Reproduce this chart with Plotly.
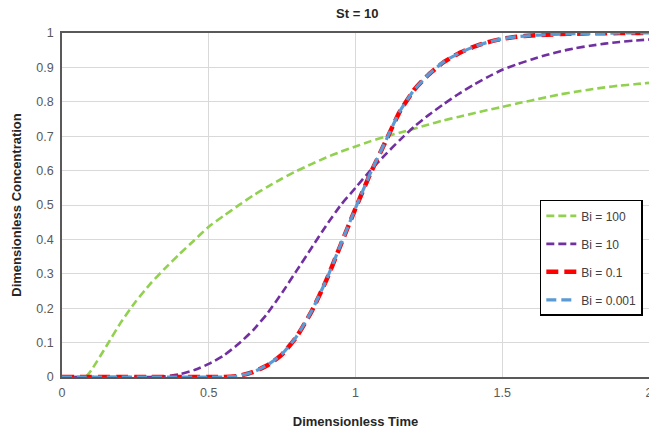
import plotly.graph_objects as go

time = [0, 0.05, 0.08, 0.1, 0.15, 0.2, 0.25, 0.3, 0.35, 0.4, 0.45, 0.5, 0.55, 0.6, 0.65, 0.7,
        0.75, 0.8, 0.85, 0.9, 0.95, 1.0, 1.05, 1.1, 1.15, 1.2, 1.25, 1.3, 1.35, 1.4, 1.45,
        1.5, 1.55, 1.6, 1.65, 1.7, 1.75, 1.8, 1.85, 1.9, 1.95, 2.0]

bi_100 = [0, 0, 0, 0.02, 0.088, 0.158, 0.218, 0.27, 0.315, 0.357, 0.397, 0.437, 0.468, 0.498,
          0.527, 0.553, 0.577, 0.599, 0.619, 0.638, 0.655, 0.67, 0.685, 0.698, 0.71, 0.722,
          0.734, 0.746, 0.756, 0.766, 0.776, 0.785, 0.795, 0.804, 0.813, 0.822, 0.829, 0.836,
          0.842, 0.847, 0.851, 0.855]

bi_10 = [0, 0, 0, 0, 0, 0, 0, 0, 0.002, 0.008, 0.02, 0.038, 0.062, 0.095, 0.135, 0.185,
         0.245, 0.31, 0.375, 0.44, 0.5, 0.55, 0.6, 0.645, 0.688, 0.728, 0.762, 0.793, 0.822,
         0.848, 0.872, 0.893, 0.909, 0.923, 0.936, 0.947, 0.956, 0.963, 0.969, 0.974, 0.978,
         0.981]

bi_01 = [0, 0, 0, 0, 0, 0, 0, 0, 0, 0, 0, 0, 0, 0.003, 0.014, 0.034, 0.066, 0.118, 0.19,
         0.28, 0.385, 0.49, 0.59, 0.68, 0.77, 0.835, 0.88, 0.915, 0.94, 0.959, 0.973,
         0.983, 0.989, 0.993, 0.995, 0.997, 0.998, 0.999, 0.999, 1.0, 1.0, 1.0]

bi_0001 = [0, 0, 0, 0, 0, 0, 0, 0, 0, 0, 0, 0, 0, 0.003, 0.014, 0.035, 0.067, 0.119, 0.191,
           0.281, 0.386, 0.491, 0.591, 0.681, 0.771, 0.835, 0.88, 0.916, 0.94, 0.959, 0.973,
           0.983, 0.989, 0.993, 0.995, 0.997, 0.998, 0.999, 0.999, 1.0, 1.0, 1.0]

series_names = ["Bi = 100", "Bi = 10", "Bi = 0.1", "Bi = 0.001"]

title_text = "St = 10"
x_title = "Dimensionless Time"
y_title = "Dimensionless Concentration"

FONT = "Liberation Sans, Arial, sans-serif"

styles = [
    dict(color="#92D050", width=2.6, dash="8px,4px"),
    dict(color="#7030A0", width=2.6, dash="8px,4px"),
    dict(color="#FF0000", width=4.5, dash="12px,6px"),
    dict(color="#5B9BD5", width=3.2, dash="10px,5px"),
]

fig = go.Figure()
for i, (name, ys) in enumerate(zip(series_names, [bi_100, bi_10, bi_01, bi_0001])):
    fig.add_trace(go.Scatter(
        x=time, y=ys, mode="lines", name=name,
        line=dict(shape="spline", smoothing=0.5, **styles[i]),
        legendgroup=f"g{i}",
    ))

FIG_W, FIG_H = 649, 431

fig.update_layout(
    width=FIG_W, height=FIG_H,
    margin=dict(l=62, r=0, t=33, b=54, autoexpand=False),
    paper_bgcolor="white", plot_bgcolor="white",
    font=dict(family=FONT, size=12, color="#595959"),
    title=dict(text=f"<b>{title_text}</b>", x=0.503, xref="paper", y=1 - 13 / FIG_H, yanchor="middle",
               font=dict(family=FONT, size=13, color="#262626")),
    showlegend=True,
    legend=dict(x=0.814, y=0.515, xanchor="left", yanchor="top",
                bgcolor="white", bordercolor="#000000", borderwidth=1.5,
                font=dict(family=FONT, size=12, color="#404040"),
                tracegroupgap=9, itemwidth=30),
)
fig.update_xaxes(
    range=[0, 2], dtick=0.5, tick0=0, automargin=False, ticklabeloverflow="allow",
    showgrid=True, gridcolor="#D9D9D9", gridwidth=1,
    showline=True, linecolor="#595959", linewidth=2, mirror=True,
    zeroline=False, ticks="outside", ticklen=3, tickcolor="rgba(0,0,0,0)",
    tickfont=dict(family=FONT, size=12.5, color="#595959"),
    title=dict(text=f"<b>{x_title}</b>", font=dict(family=FONT, size=13, color="#262626"), standoff=18),
)
fig.update_yaxes(
    range=[0, 1], dtick=0.1, tick0=0, automargin=False,
    showgrid=True, gridcolor="#D9D9D9", gridwidth=1,
    showline=True, linecolor="#595959", linewidth=1.5,
    zeroline=False, ticks="outside", ticklen=4, tickcolor="rgba(0,0,0,0)",
    tickfont=dict(family=FONT, size=12.5, color="#595959"),
    title=dict(text=f"<b>{y_title}</b>", font=dict(family=FONT, size=13, color="#262626"), standoff=12),
)

fig.write_html(
    "out.html",
    config={"displayModeBar": False},
    post_script="document.body.style.margin='0px';document.body.style.overflow='hidden';",
)
